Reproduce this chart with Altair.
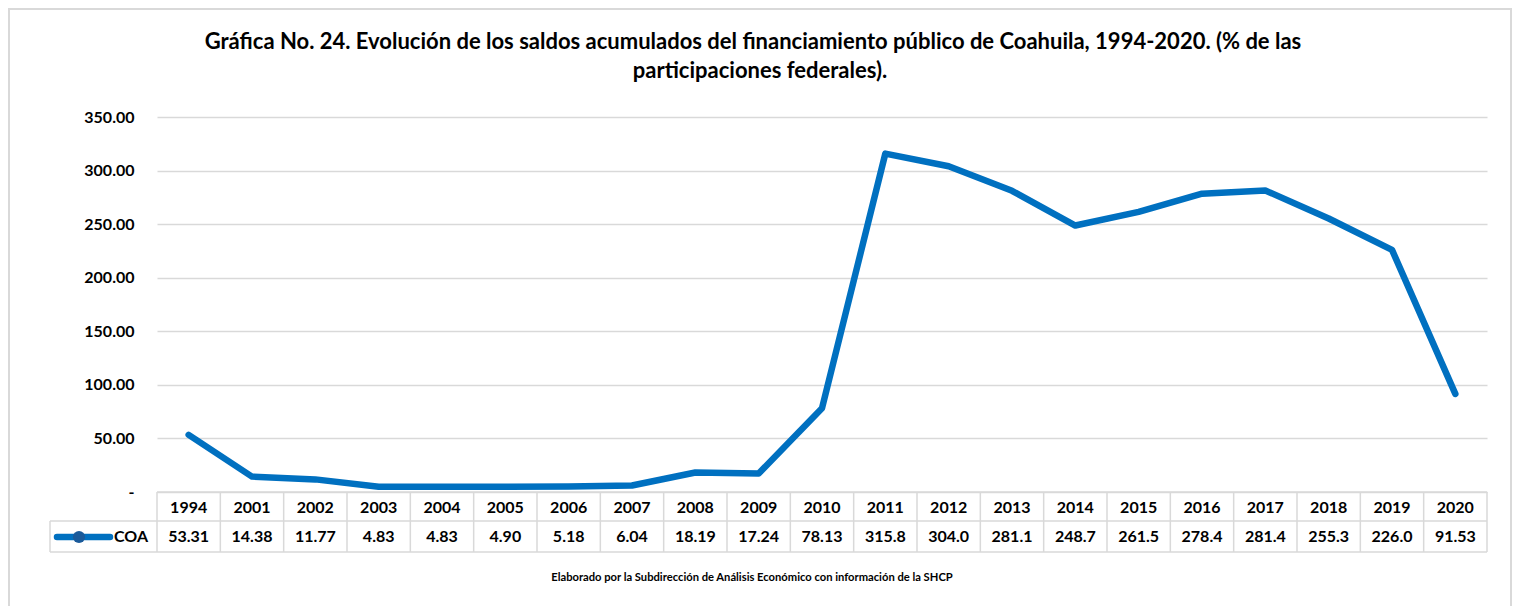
import altair as alt
import pandas as pd

years = ["1994", "2001", "2002", "2003", "2004", "2005", "2006", "2007", "2008", "2009",
         "2010", "2011", "2012", "2013", "2014", "2015", "2016", "2017", "2018", "2019", "2020"]
coa = [53.31, 14.38, 11.77, 4.83, 4.83, 4.90, 5.18, 6.04, 18.19, 17.24,
       78.13, 315.8, 304.0, 281.1, 248.7, 261.5, 278.4, 281.4, 255.3, 226.0, 91.53]
series_name = "COA"
title_lines = ["Gráfica No. 24. Evolución de los saldos acumulados del financiamiento público de Coahuila, 1994-2020. (% de las",
               "participaciones federales)."]
footer = "Elaborado por la Subdirección de Análisis Económico con información de la SHCP"
y_ticks = [0, 50, 100, 150, 200, 250, 300, 350]

FONT = "Lato"
BLUE = "#0070C0"
GRID = "#d9d9d9"
W, H = 1330, 375

df = pd.DataFrame({"year": years, "v": coa})

xs = alt.Scale(type="band", paddingInner=0, paddingOuter=0, domain=years)
ys = alt.Scale(domain=[0, 350], nice=False, zero=True)

base = alt.Chart(df)

line = base.mark_line(color=BLUE, strokeWidth=6.5, strokeCap="round", strokeJoin="round").encode(
    x=alt.X("year:O", scale=xs, bandPosition=0.5, axis=None),
    y=alt.Y("v:Q", scale=ys, axis=alt.Axis(
        values=y_ticks, title=None, domain=False, ticks=False, grid=True, gridColor=GRID,
        gridWidth=1.5, labelFont=FONT, labelFontSize=16, labelFontWeight="bold",
        labelColor="#000000", labelPadding=23,
        labelExpr="datum.value == 0 ? '-\u00a0\u00a0\u00a0' : format(datum.value, '.2f')")),
)

# table lines
vlines = base.mark_rule(color=GRID, strokeWidth=1.5).encode(
    x=alt.X("year:O", scale=xs, bandPosition=0),
    y=alt.value(375), y2=alt.value(435),
)
one = pd.DataFrame({"a": [0]})
right_line = alt.Chart(one).mark_rule(color=GRID, strokeWidth=1.5).encode(
    x=alt.value(W), y=alt.value(375), y2=alt.value(435))
left_cell = alt.Chart(one).mark_rule(color=GRID, strokeWidth=1.5).encode(
    x=alt.value(-107), y=alt.value(404), y2=alt.value(435))
h_top = alt.Chart(one).mark_rule(color=GRID, strokeWidth=1.5).encode(
    x=alt.value(0), x2=alt.value(W), y=alt.value(375))
h_mid = alt.Chart(one).mark_rule(color=GRID, strokeWidth=1.5).encode(
    x=alt.value(-107), x2=alt.value(W), y=alt.value(404))
h_bot = alt.Chart(one).mark_rule(color=GRID, strokeWidth=1.5).encode(
    x=alt.value(-107), x2=alt.value(W), y=alt.value(435))

year_text = base.mark_text(font=FONT, fontSize=16, fontWeight="bold", color="#000000",
                           baseline="middle").encode(
    x=alt.X("year:O", scale=xs, bandPosition=0.5), y=alt.value(391), text="year:N")
val_text = base.transform_calculate(
    lab="datum.v >= 100 ? format(datum.v, '.1f') : format(datum.v, '.2f')"
).mark_text(font=FONT, fontSize=16, fontWeight="bold", color="#000000", baseline="middle").encode(
    x=alt.X("year:O", scale=xs, bandPosition=0.5), y=alt.value(420), text="lab:N")

leg_line = alt.Chart(one).mark_rule(color=BLUE, strokeWidth=6.5, strokeCap="round").encode(
    x=alt.value(-100), x2=alt.value(-47), y=alt.value(420))
leg_dot = alt.Chart(one).mark_point(filled=True, color="#1a5a9a", size=150, opacity=1).encode(
    x=alt.value(-78), y=alt.value(420))
leg_text = alt.Chart(pd.DataFrame({"t": [series_name]})).mark_text(
    font=FONT, fontSize=16, fontWeight="bold", color="#000000", align="left", baseline="middle").encode(
    x=alt.value(-43), y=alt.value(420), text="t:N")

title1 = alt.Chart(pd.DataFrame({"t": [title_lines[0]]})).mark_text(
    font=FONT, fontSize=22, fontWeight="bold", color="#000000", align="center", baseline="middle").encode(
    x=alt.value(596), y=alt.value(-75), text="t:N")
title2 = alt.Chart(pd.DataFrame({"t": [title_lines[1]]})).mark_text(
    font=FONT, fontSize=22, fontWeight="bold", color="#000000", align="center", baseline="middle").encode(
    x=alt.value(603), y=alt.value(-46), text="t:N")
foot = alt.Chart(pd.DataFrame({"t": [footer]})).mark_text(
    font=FONT, fontSize=11.2, fontWeight="bold", color="#000000", align="center", baseline="middle").encode(
    x=alt.value(595), y=alt.value(461), text="t:N")

border = alt.Chart(one).mark_rect(fill=None, stroke=GRID, strokeWidth=2).encode(
    x=alt.value(-148), x2=alt.value(1354), y=alt.value(-108), y2=alt.value(500))

chart = alt.layer(
    border, line, vlines, right_line, left_cell, h_top, h_mid, h_bot,
    year_text, val_text, leg_line, leg_dot, leg_text, title1, title2, foot
).properties(
    width=W, height=H,
    padding={"left": 149, "top": 109, "right": 25, "bottom": 114},
    autosize=alt.AutoSizeParams(type="none"),
    background="white",
).configure_view(stroke=None)

chart.save("out.html", embed_options={"renderer": "svg", "actions": False})
